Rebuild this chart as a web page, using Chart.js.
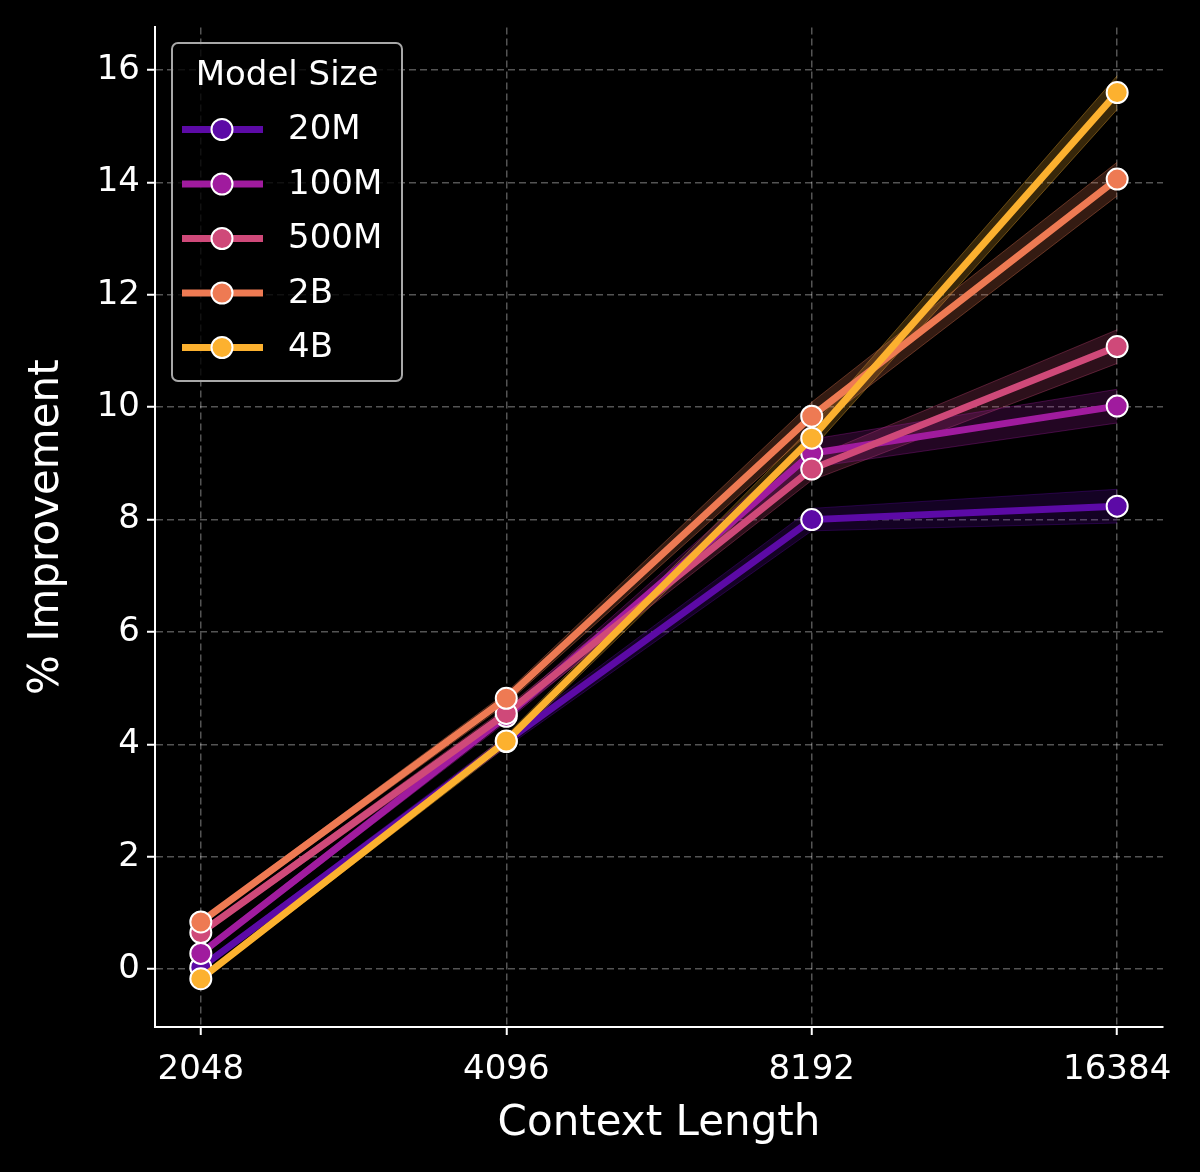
<!DOCTYPE html>
<html>
<head>
<meta charset="utf-8">
<script src="https://cdn.jsdelivr.net/npm/chart.js@4/dist/chart.umd.min.js"></script>
<style>
    html, body { margin: 0; padding: 0; background: #000; }
    #wrap { width: 1200px; height: 1172px; }
</style>
</head>
<body>
<div id="wrap"><canvas id="chart" width="1200" height="1172"></canvas></div>
<script>
// context lengths on the x axis (log2 spaced)
const contextLengths = [2048, 4096, 8192, 16384];
const yTicks = [0, 2, 4, 6, 8, 10, 12, 14, 16];

const modelSizes = ['20M', '100M', '500M', '2B', '4B'];
const modelColors = ['#5c0aa6', '#a01b9e', '#cf4979', '#ee7a53', '#fcb12f'];

// % improvement per model size
const improve20M  = [0.03, 4.05, 8.00, 8.24];
const improve100M = [0.28, 4.50, 9.18, 10.02];
const improve500M = [0.65, 4.55, 8.90, 11.08];
const improve2B   = [0.84, 4.82, 9.84, 14.06];
const improve4B   = [-0.17, 4.06, 9.45, 15.60];

// half-width of the shaded band around each line
const band20M  = [0.05, 0.10, 0.20, 0.30];
const band100M = [0.05, 0.10, 0.25, 0.30];
const band500M = [0.05, 0.10, 0.20, 0.30];
const band2B   = [0.05, 0.10, 0.25, 0.30];
const band4B   = [0.05, 0.10, 0.20, 0.30];

const seriesValues = [improve20M, improve100M, improve500M, improve2B, improve4B];
const seriesBands = [band20M, band100M, band500M, band2B, band4B];

const FONT = '"DejaVu Sans", "Liberation Sans", sans-serif';

function hexToRgba(hex, a) {
    const n = parseInt(hex.slice(1), 16);
    return `rgba(${(n >> 16) & 255}, ${(n >> 8) & 255}, ${n & 255}, ${a})`;
}

function toPoints(values) {
    return values.map((v, i) => ({ x: Math.log2(contextLengths[i]), y: v }));
}

const datasets = [];
modelSizes.forEach((name, i) => {
    const vals = seriesValues[i];
    const band = seriesBands[i];
    // band upper + lower (filled between)
    datasets.push({
        label: name + ' hi',
        data: toPoints(vals.map((v, j) => v + band[j])),
        borderColor: hexToRgba(modelColors[i], 0.35),
        borderWidth: 1,
        pointRadius: 0,
        fill: false,
        order: 20
    });
    datasets.push({
        label: name + ' lo',
        data: toPoints(vals.map((v, j) => v - band[j])),
        borderColor: hexToRgba(modelColors[i], 0.35),
        borderWidth: 1,
        backgroundColor: hexToRgba(modelColors[i], 0.22),
        pointRadius: 0,
        fill: '-1',
        order: 20
    });
});
modelSizes.forEach((name, i) => {
    datasets.push({
        label: name,
        data: toPoints(seriesValues[i]),
        borderColor: modelColors[i],
        backgroundColor: modelColors[i],
        borderWidth: 7,
        pointRadius: 10.5,
        pointBorderColor: '#ffffff',
        pointBorderWidth: 2,
        pointBackgroundColor: modelColors[i],
        fill: false,
        order: 10 - i
    });
});

const boxLegend = {
    id: 'boxLegend',
    afterDraw(chart) {
        const ctx = chart.ctx;
        const x = 172, y = 43, w = 230, h = 338;
        ctx.save();
        ctx.beginPath();
        ctx.roundRect(x, y, w, h, 6);
        ctx.fillStyle = 'rgba(0,0,0,0.8)';
        ctx.fill();
        ctx.lineWidth = 2;
        ctx.strokeStyle = '#a8a8a8';
        ctx.stroke();

        ctx.fillStyle = '#ffffff';
        ctx.font = '34px ' + FONT;
        ctx.textAlign = 'center';
        ctx.textBaseline = 'middle';
        ctx.fillText('Model Size', x + w / 2, 76);

        ctx.textAlign = 'left';
        modelSizes.forEach((name, i) => {
            const yy = 129.5 + i * 54.5;
            ctx.strokeStyle = modelColors[i];
            ctx.lineWidth = 7;
            ctx.beginPath();
            ctx.moveTo(182, yy);
            ctx.lineTo(263, yy);
            ctx.stroke();
            ctx.beginPath();
            ctx.arc(222, yy, 10.5, 0, Math.PI * 2);
            ctx.fillStyle = modelColors[i];
            ctx.fill();
            ctx.lineWidth = 2;
            ctx.strokeStyle = '#ffffff';
            ctx.stroke();
            ctx.fillStyle = '#ffffff';
            ctx.fillText(name, 288, yy + 1);
        });
        ctx.restore();
    }
};

new Chart(document.getElementById('chart'), {
    type: 'line',
    data: { datasets: datasets },
    options: {
        responsive: false,
        animation: false,
        devicePixelRatio: 1,
        layout: { padding: { top: 22, right: 37, left: 0, bottom: 0 } },
        plugins: {
            legend: { display: false },
            tooltip: { enabled: false }
        },
        scales: {
            x: {
                type: 'linear',
                min: 10.85,
                max: 14.15,
                afterBuildTicks: axis => {
                    axis.ticks = contextLengths.map(c => ({ value: Math.log2(c) }));
                },
                afterFit: scale => { scale.height = 145; },
                ticks: {
                    color: '#ffffff',
                    font: { family: FONT, size: 34 },
                    padding: 15,
                    maxRotation: 0,
                    callback: value => String(Math.round(Math.pow(2, value)))
                },
                grid: {
                    color: 'rgba(255,255,255,0.33)',
                    lineWidth: 1.5,
                    drawTicks: true,
                    tickLength: 8,
                    tickColor: '#ffffff',
                    tickWidth: 2
                },
                border: { display: true, color: '#ffffff', width: 2, dash: [7, 4] },
                title: {
                    display: true,
                    text: 'Context Length',
                    color: '#ffffff',
                    font: { family: FONT, size: 42 },
                    padding: { top: 0, bottom: 23 }
                }
            },
            y: {
                type: 'linear',
                min: -1.03,
                max: 16.76,
                afterBuildTicks: axis => {
                    axis.ticks = yTicks.map(v => ({ value: v }));
                },
                afterFit: scale => { scale.width = 155; },
                ticks: {
                    color: '#ffffff',
                    font: { family: FONT, size: 34 },
                    padding: 7,
                    callback: value => String(value)
                },
                grid: {
                    color: 'rgba(255,255,255,0.33)',
                    lineWidth: 1.5,
                    drawTicks: true,
                    tickLength: 8,
                    tickColor: '#ffffff',
                    tickWidth: 2
                },
                border: { display: true, color: '#ffffff', width: 2, dash: [7, 4] },
                title: {
                    display: true,
                    text: '% Improvement',
                    color: '#ffffff',
                    font: { family: FONT, size: 42 },
                    padding: { top: 22, bottom: 0 }
                }
            }
        }
    },
    plugins: [boxLegend]
});
</script>
</body>
</html>
